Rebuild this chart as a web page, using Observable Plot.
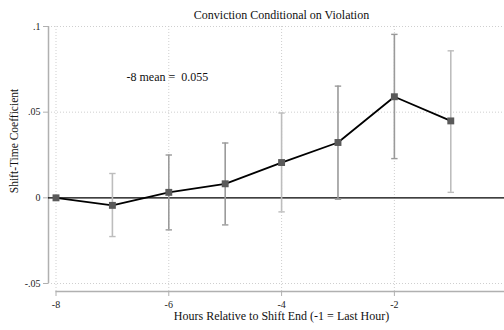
<!DOCTYPE html>
<html>
<head>
<meta charset="utf-8">
<script src="https://cdn.jsdelivr.net/npm/d3@7"></script>
<script src="https://cdn.jsdelivr.net/npm/@observablehq/plot@0.6"></script>
<style>
  html, body { margin: 0; padding: 0; background: #fff; overflow: hidden; }
  svg { display: block; }
</style>
</head>
<body>
<div id="chart"></div>
<script>
const title = "Conviction Conditional on Violation";
const xTitle = "Hours Relative to Shift End (-1 = Last Hour)";
const yTitle = "Shift-Time Coefficient";
const note = "-8 mean =  0.055";
const hours = [-8, -7, -6, -5, -4, -3, -2, -1];
const coef  = [0, -0.0044, 0.0032, 0.0082, 0.0206, 0.0323, 0.059, 0.0449];
const lower = [0, -0.0226, -0.0187, -0.0158, -0.0082, -0.0008, 0.0229, 0.0032];
const upper = [0, 0.0142, 0.025, 0.032, 0.0495, 0.0652, 0.0954, 0.0858];
const xTicks = [-8, -6, -4, -2, 0];
const yTicks = [-0.05, 0, 0.05, 0.1];
const yTickLabels = ["-.05", "0", ".05", ".1"];

const data = hours.map((h, i) => ({h, c: coef[i], lo: lower[i], hi: upper[i]}));
const bars = data.filter(d => d.h !== -8);
const shade = h => ([-7, -4, -1].includes(h) ? "#bdbdbd" : "#9a9a9a");

const capSymbol = {
  draw(ctx, size) {
    const r = 3.2;
    ctx.moveTo(-r, 0);
    ctx.lineTo(r, 0);
  }
};

const font = "Liberation Serif, Times New Roman, serif";
const xDom = [-8.133, 0.13];
const yDom = [-0.05, 0.1];
const xMid = (xDom[0] + xDom[1]) / 2;

const chart = Plot.plot({
  width: 504,
  height: 330,
  marginLeft: 48,
  marginRight: 0,
  marginTop: 26,
  marginBottom: 47,
  style: {fontFamily: font, background: "#fff", overflow: "visible"},
  x: {type: "linear", domain: xDom, range: [48, 514], axis: null},
  y: {type: "linear", domain: yDom, range: [283, 26], axis: null},
  marks: [
    // grid
    Plot.ruleY(yTicks.filter(v => v !== 0), {x1: xDom[0], x2: xDom[1], stroke: "#cfcfcf", strokeDasharray: "1,2", strokeWidth: 1}),
    Plot.ruleX(xTicks, {y1: yDom[1], y2: yDom[0], stroke: "#cfcfcf", strokeDasharray: "1,2", strokeWidth: 1, insetBottom: -8}),
    // y axis
    Plot.ruleX([xDom[0]], {y1: yDom[0], y2: yDom[1], stroke: "#b0b0b0", strokeWidth: 1.5}),
    Plot.axisY({ticks: yTicks, tickFormat: d => yTickLabels[yTicks.indexOf(d)], tickSize: 5, tickPadding: 3, stroke: "#b0b0b0", fontSize: 10, fontFamily: font, fill: "#222", label: null}),
    // x axis
    Plot.ruleY([yDom[0]], {x1: -8, x2: xDom[1], dy: 8, stroke: "#b0b0b0", strokeWidth: 1.5}),
    Plot.axisX({ticks: xTicks, tickFormat: d => String(d), tickSize: 5, tickPadding: 4, dy: 8, stroke: "#b0b0b0", fontSize: 10, fontFamily: font, fill: "#222", label: null, anchor: "bottom"}),
    // zero line
    Plot.ruleY([0], {x1: xDom[0], x2: xDom[1], stroke: "#000", strokeWidth: 1.3}),
    // error bars
    Plot.ruleX(bars, {x: "h", y1: "lo", y2: "hi", stroke: d => shade(d.h), strokeWidth: 1.6}),
    Plot.dot(bars, {x: "h", y: "lo", symbol: capSymbol, stroke: d => shade(d.h), strokeWidth: 1.4}),
    Plot.dot(bars, {x: "h", y: "hi", symbol: capSymbol, stroke: d => shade(d.h), strokeWidth: 1.4}),
    // line and markers
    Plot.line(data, {x: "h", y: "c", stroke: "#000", strokeWidth: 1.8}),
    Plot.dot(data, {x: "h", y: "c", symbol: "square", r: 3.9, fill: "#5a5a5a", stroke: "none"}),
    // texts
    Plot.text([note], {frameAnchor: "top-left", dx: 78, dy: 46, fontSize: 12, fontFamily: font, fill: "#111", textAnchor: "start"}),
    Plot.text([title], {x: () => xMid, frameAnchor: "top", dy: -16, fontSize: 12, fontFamily: font, fill: "#111"}),
    Plot.text([xTitle], {x: () => xMid, frameAnchor: "bottom", dy: 36, fontSize: 12, fontFamily: font, fill: "#111"}),
    Plot.text([yTitle], {frameAnchor: "left", textAnchor: "middle", dx: -34, dy: -14, rotate: -90, fontSize: 11.5, fontFamily: font, fill: "#111"})
  ]
});
document.getElementById("chart").appendChild(chart);
</script>
</body>
</html>
